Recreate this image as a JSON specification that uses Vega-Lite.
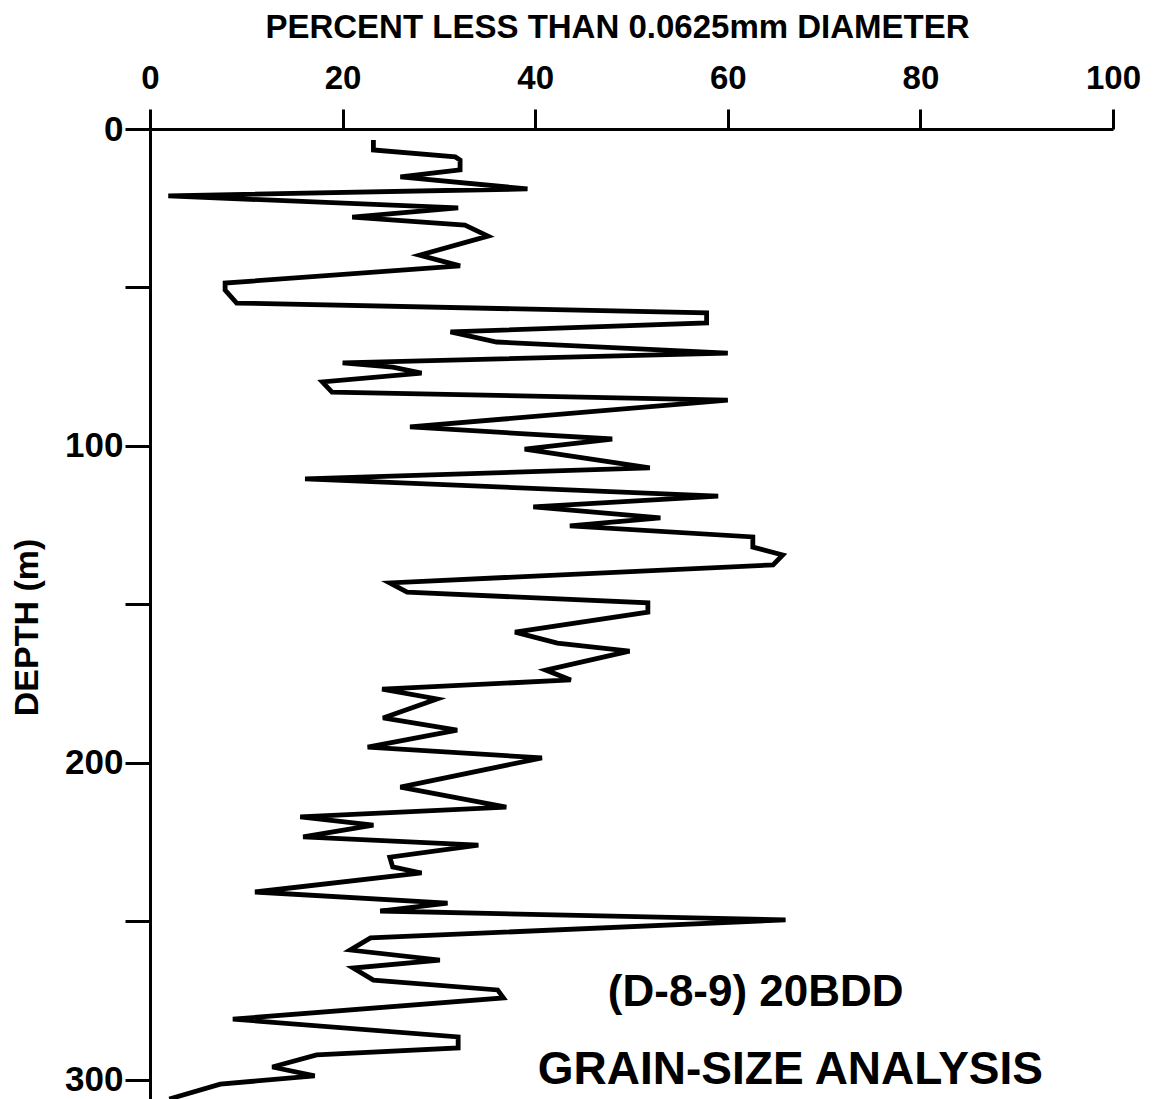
{
  "$schema": "https://vega.github.io/schema/vega-lite/v6.json",
  "autosize": {"type": "none"},
  "padding": {"left": 150, "top": 129, "right": 42, "bottom": 0},
  "width": 963,
  "height": 970,
  "background": "white",
  "config": {"view": {"stroke": null}, "font": "Liberation Sans"},
  "datasets": {
    "profile": [
      {"i": 1, "percent": 23.2, "depth": 3.5},
      {"i": 2, "percent": 23.2, "depth": 6.6},
      {"i": 3, "percent": 31.7, "depth": 8.8},
      {"i": 4, "percent": 32.2, "depth": 9.8},
      {"i": 5, "percent": 32.2, "depth": 12.9},
      {"i": 6, "percent": 26.0, "depth": 15.1},
      {"i": 7, "percent": 39.2, "depth": 18.9},
      {"i": 8, "percent": 1.9, "depth": 21.1},
      {"i": 9, "percent": 32.0, "depth": 24.9},
      {"i": 10, "percent": 21.0, "depth": 27.8},
      {"i": 11, "percent": 32.7, "depth": 30.3},
      {"i": 12, "percent": 35.1, "depth": 33.8},
      {"i": 13, "percent": 28.0, "depth": 39.8},
      {"i": 14, "percent": 32.2, "depth": 43.2},
      {"i": 15, "percent": 7.8, "depth": 48.6},
      {"i": 16, "percent": 7.8, "depth": 50.8},
      {"i": 17, "percent": 9.0, "depth": 54.9},
      {"i": 18, "percent": 57.8, "depth": 58.0},
      {"i": 19, "percent": 57.8, "depth": 61.2},
      {"i": 20, "percent": 31.2, "depth": 64.0},
      {"i": 21, "percent": 36.0, "depth": 67.2},
      {"i": 22, "percent": 60.0, "depth": 70.7},
      {"i": 23, "percent": 20.0, "depth": 73.8},
      {"i": 24, "percent": 25.2, "depth": 75.1},
      {"i": 25, "percent": 28.2, "depth": 77.0},
      {"i": 26, "percent": 17.9, "depth": 79.8},
      {"i": 27, "percent": 18.9, "depth": 83.0},
      {"i": 28, "percent": 60.0, "depth": 85.5},
      {"i": 29, "percent": 27.0, "depth": 94.0},
      {"i": 30, "percent": 48.0, "depth": 97.8},
      {"i": 31, "percent": 38.9, "depth": 101.0},
      {"i": 32, "percent": 51.9, "depth": 106.9},
      {"i": 33, "percent": 16.1, "depth": 110.4},
      {"i": 34, "percent": 59.0, "depth": 115.8},
      {"i": 35, "percent": 39.8, "depth": 119.2},
      {"i": 36, "percent": 53.0, "depth": 122.7},
      {"i": 37, "percent": 43.6, "depth": 125.2},
      {"i": 38, "percent": 62.6, "depth": 128.7},
      {"i": 39, "percent": 62.6, "depth": 131.9},
      {"i": 40, "percent": 65.7, "depth": 134.4},
      {"i": 41, "percent": 64.7, "depth": 137.5},
      {"i": 42, "percent": 24.9, "depth": 143.2},
      {"i": 43, "percent": 26.7, "depth": 146.1},
      {"i": 44, "percent": 51.7, "depth": 149.5},
      {"i": 45, "percent": 51.7, "depth": 152.4},
      {"i": 46, "percent": 37.9, "depth": 158.7},
      {"i": 47, "percent": 42.3, "depth": 162.2},
      {"i": 48, "percent": 49.8, "depth": 164.7},
      {"i": 49, "percent": 41.1, "depth": 170.7},
      {"i": 50, "percent": 43.7, "depth": 173.8},
      {"i": 51, "percent": 24.1, "depth": 176.7},
      {"i": 52, "percent": 29.8, "depth": 179.8},
      {"i": 53, "percent": 24.2, "depth": 185.8},
      {"i": 54, "percent": 31.9, "depth": 189.6},
      {"i": 55, "percent": 22.6, "depth": 195.0},
      {"i": 56, "percent": 40.7, "depth": 198.4},
      {"i": 57, "percent": 26.0, "depth": 207.6},
      {"i": 58, "percent": 37.0, "depth": 213.9},
      {"i": 59, "percent": 15.6, "depth": 217.0},
      {"i": 60, "percent": 23.2, "depth": 219.6},
      {"i": 61, "percent": 15.9, "depth": 223.3},
      {"i": 62, "percent": 34.1, "depth": 225.9},
      {"i": 63, "percent": 24.9, "depth": 229.7},
      {"i": 64, "percent": 25.2, "depth": 232.8},
      {"i": 65, "percent": 28.2, "depth": 234.7},
      {"i": 66, "percent": 10.9, "depth": 240.7},
      {"i": 67, "percent": 30.9, "depth": 244.2},
      {"i": 68, "percent": 23.9, "depth": 246.7},
      {"i": 69, "percent": 66.0, "depth": 249.5},
      {"i": 70, "percent": 22.9, "depth": 255.2},
      {"i": 71, "percent": 20.8, "depth": 259.0},
      {"i": 72, "percent": 30.1, "depth": 262.2},
      {"i": 73, "percent": 21.1, "depth": 264.7},
      {"i": 74, "percent": 23.2, "depth": 268.5},
      {"i": 75, "percent": 36.1, "depth": 271.6},
      {"i": 76, "percent": 36.7, "depth": 274.1},
      {"i": 77, "percent": 8.6, "depth": 280.8},
      {"i": 78, "percent": 32.0, "depth": 286.4},
      {"i": 79, "percent": 32.0, "depth": 289.9},
      {"i": 80, "percent": 17.3, "depth": 292.1},
      {"i": 81, "percent": 12.7, "depth": 295.9},
      {"i": 82, "percent": 17.1, "depth": 298.7},
      {"i": 83, "percent": 7.3, "depth": 301.3},
      {"i": 84, "percent": 2.0, "depth": 306.0}
    ],
    "labels": [
      {"text": "(D-8-9) 20BDD", "percent": 62.9, "depth": 276.7, "size": 44},
      {"text": "GRAIN-SIZE  ANALYSIS", "percent": 66.5, "depth": 301.3, "size": 46}
    ]
  },
  "layer": [
    {
      "data": {"name": "profile"},
      "mark": {"type": "line", "color": "black", "strokeWidth": 4.8, "strokeJoin": "miter", "clip": true},
      "encoding": {
        "x": {
          "field": "percent", "type": "quantitative",
          "scale": {"domain": [0, 100], "nice": false, "zero": false},
          "axis": {
            "orient": "top",
            "title": "PERCENT LESS THAN 0.0625mm DIAMETER",
            "titleFont": "Liberation Sans", "titleFontSize": 33, "titleFontWeight": "bold", "titleColor": "black",
            "titlePadding": 18,
            "titleX": 467,
            "values": [0, 20, 40, 60, 80, 100],
            "labelFont": "Liberation Sans", "labelFontSize": 33, "labelFontWeight": "bold", "labelColor": "black",
            "labelPadding": 14,
            "tickSize": 20, "tickWidth": 3, "tickColor": "black",
            "domainWidth": 3, "domainColor": "black",
            "grid": false, "labelFlush": false
          }
        },
        "y": {
          "field": "depth", "type": "quantitative",
          "scale": {"domain": [0, 306], "nice": false, "zero": false, "reverse": true},
          "axis": {
            "orient": "left",
            "title": "DEPTH (m)",
            "titleFont": "Liberation Sans", "titleFontSize": 34, "titleFontWeight": "bold", "titleColor": "black",
            "titlePadding": 20,
            "titleY": 498,
            "values": [0, 50, 100, 150, 200, 250, 300],
            "labelExpr": "datum.value % 100 === 0 ? datum.label : ''",
            "labelFont": "Liberation Sans", "labelFontSize": 35, "labelFontWeight": "bold", "labelColor": "black",
            "labelPadding": 2,
            "tickSize": 25, "tickWidth": 3, "tickColor": "black",
            "domainWidth": 3, "domainColor": "black",
            "grid": false, "labelFlush": false
          }
        },
        "order": {"field": "i", "type": "quantitative"}
      }
    },
    {
      "data": {"name": "labels"},
      "mark": {"type": "text", "font": "Liberation Sans", "fontWeight": "bold", "color": "black", "align": "center", "baseline": "alphabetic"},
      "encoding": {
        "x": {"field": "percent", "type": "quantitative"},
        "y": {"field": "depth", "type": "quantitative"},
        "text": {"field": "text"},
        "size": {"field": "size", "type": "quantitative", "scale": null}
      }
    }
  ]
}
